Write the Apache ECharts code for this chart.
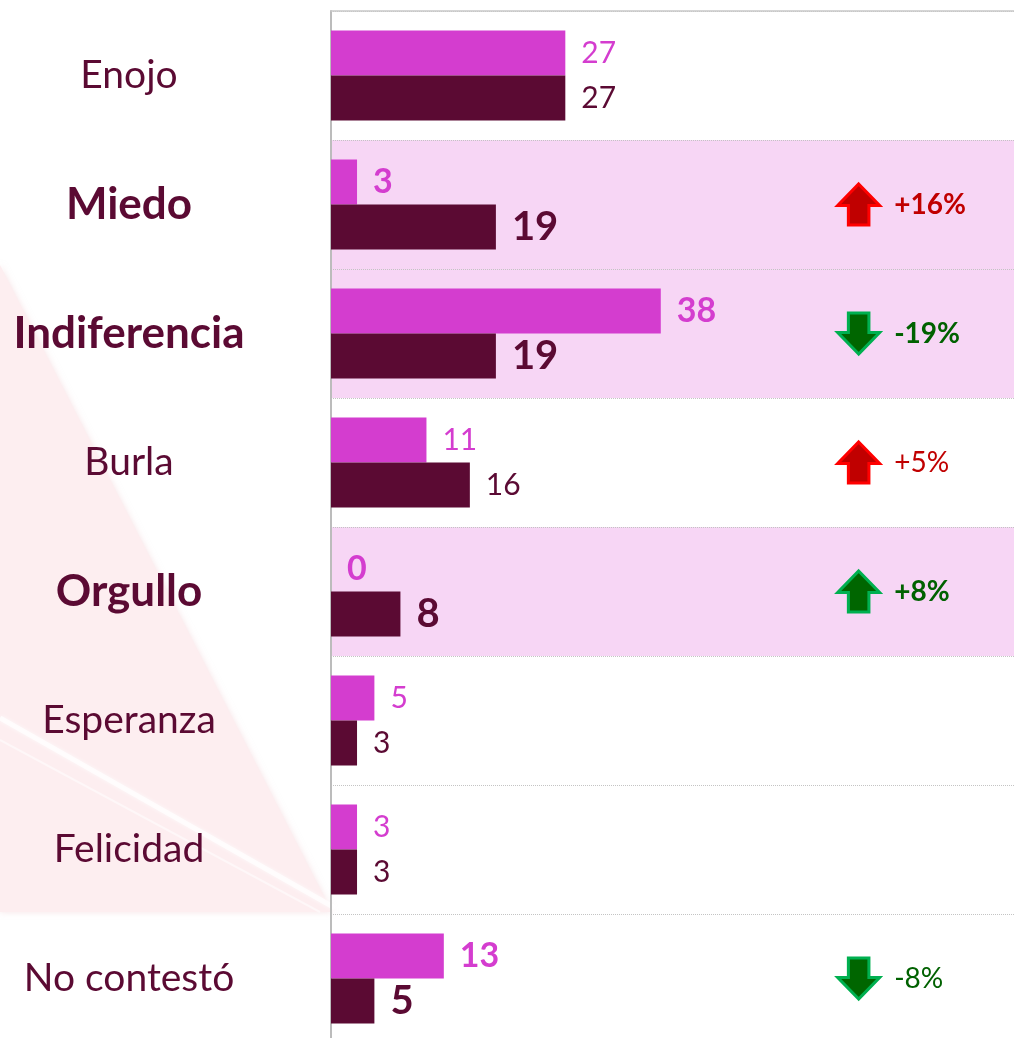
<!DOCTYPE html>
<html>
<head>
<meta charset="utf-8">
<script src="https://cdn.jsdelivr.net/npm/echarts@6/dist/echarts.min.js"></script>
<style>
  html, body { margin: 0; padding: 0; background: #fff; overflow: hidden; }
  #chart { width: 1014px; height: 1043px; }
</style>
</head>
<body>
<div id="chart"></div>
<script>
// datos del gráfico
const categories = ['Enojo', 'Miedo', 'Indiferencia', 'Burla', 'Orgullo', 'Esperanza', 'Felicidad', 'No contestó'];
const pinkValues = [27, 3, 38, 11, 0, 5, 3, 13];
const darkValues = [27, 19, 19, 16, 8, 3, 3, 5];
const highlighted = [false, true, true, false, true, false, false, false];
const boldValues = [false, true, true, false, true, false, false, true];
const changeLabels = ['', '+16%', '-19%', '+5%', '+8%', '', '', '-8%'];
const changeUp = [null, true, false, true, true, null, null, false];
const changeRed = [null, true, false, true, false, null, null, false];
const changeBold = [false, true, true, false, true, false, false, false];

const PINK = '#d43dcf';
const DARK = '#5b0a33';
const FONT = 'Lato';
const ARROW_X = 60.8;

const chartDom = document.getElementById('chart');
const myChart = echarts.init(chartDom);

function barData(values, normalColor, boldSize) {
  return values.map(function (v, i) {
    return {
      value: v,
      label: {
        color: normalColor,
        fontSize: boldValues[i] ? boldSize : 30,
        fontWeight: boldValues[i] ? 'bold' : 'normal'
      }
    };
  });
}

const arrowData = [];
changeLabels.forEach(function (txt, i) {
  if (!txt) return;
  const red = changeRed[i];
  arrowData.push({
    value: [ARROW_X, i],
    symbolRotate: changeUp[i] ? 0 : 180,
    itemStyle: {
      opacity: 1,
      color: red ? '#c00000' : '#006600',
      borderColor: red ? '#ff0000' : '#00b050',
      borderWidth: 3
    },
    label: {
      formatter: txt,
      color: red ? '#c00000' : '#006100',
      fontWeight: changeBold[i] ? 'bold' : 'normal'
    }
  });
});

const option = {
  animation: false,
  backgroundColor: '#fff',
  textStyle: { fontFamily: FONT },
  graphic: [
    {
      type: 'polygon',
      z: -10,
      silent: true,
      shape: { points: [[0, 265], [332, 912], [0, 912]] },
      style: { fill: '#fdeef0', shadowBlur: 6, shadowColor: 'rgba(240,200,205,0.5)' }
    },
    {
      type: 'line',
      z: -9,
      silent: true,
      shape: { x1: 0, y1: 718, x2: 335, y2: 908 },
      style: { stroke: '#ffffff', lineWidth: 5, opacity: 0.7, shadowBlur: 4, shadowColor: '#ffffff' }
    },
    {
      type: 'line',
      z: -9,
      silent: true,
      shape: { x1: 0, y1: 740, x2: 320, y2: 912 },
      style: { stroke: '#ffffff', lineWidth: 2, opacity: 0.5 }
    }
  ],
  grid: {
    left: 331,
    right: 0,
    top: 11,
    bottom: 0,
    containLabel: false
  },
  xAxis: {
    type: 'value',
    position: 'top',
    min: 0,
    max: 78.7,
    axisLine: { show: true, lineStyle: { color: '#c8c8c8', width: 1.5 } },
    axisTick: { show: false },
    axisLabel: { show: false },
    splitLine: { show: false }
  },
  yAxis: {
    type: 'category',
    data: categories,
    inverse: true,
    axisLine: { show: true, lineStyle: { color: '#bcbcbc', width: 2 } },
    axisTick: { show: false },
    axisLabel: {
      margin: 202,
      align: 'center',
      formatter: function (v, i) {
        return highlighted[i] ? '{b|' + v + '}' : '{n|' + v + '}';
      },
      rich: {
        n: { fontFamily: FONT, fontSize: 39, color: DARK },
        b: { fontFamily: FONT, fontSize: 44, fontWeight: 'bold', color: DARK }
      }
    },
    splitLine: {
      show: true,
      lineStyle: { color: '#c4c4c4', type: 'dotted', width: 1 }
    },
    splitArea: {
      show: true,
      areaStyle: {
        color: highlighted.map(function (h) { return h ? '#f7d6f5' : 'rgba(255,255,255,0)'; })
      }
    }
  },
  series: [
    {
      name: 'pink',
      type: 'bar',
      barWidth: 45,
      barGap: 0,
      itemStyle: { color: PINK },
      label: { show: true, position: 'right', distance: 16, fontFamily: FONT },
      data: barData(pinkValues, PINK, 34)
    },
    {
      name: 'dark',
      type: 'bar',
      barWidth: 45,
      barGap: 0,
      itemStyle: { color: DARK },
      label: { show: true, position: 'right', distance: 16, fontFamily: FONT },
      data: barData(darkValues, DARK, 40)
    },
    {
      name: 'cambio',
      type: 'scatter',
      symbol: 'path://M22.5,0 L45,23 L33.5,23 L33.5,44 L11.5,44 L11.5,23 L0,23 Z',
      symbolSize: [42, 41],
      label: {
        show: true,
        position: 'right',
        distance: 13,
        fontFamily: FONT,
        fontSize: 28
      },
      data: arrowData
    }
  ]
};

option && myChart.setOption(option);
</script>
</body>
</html>
